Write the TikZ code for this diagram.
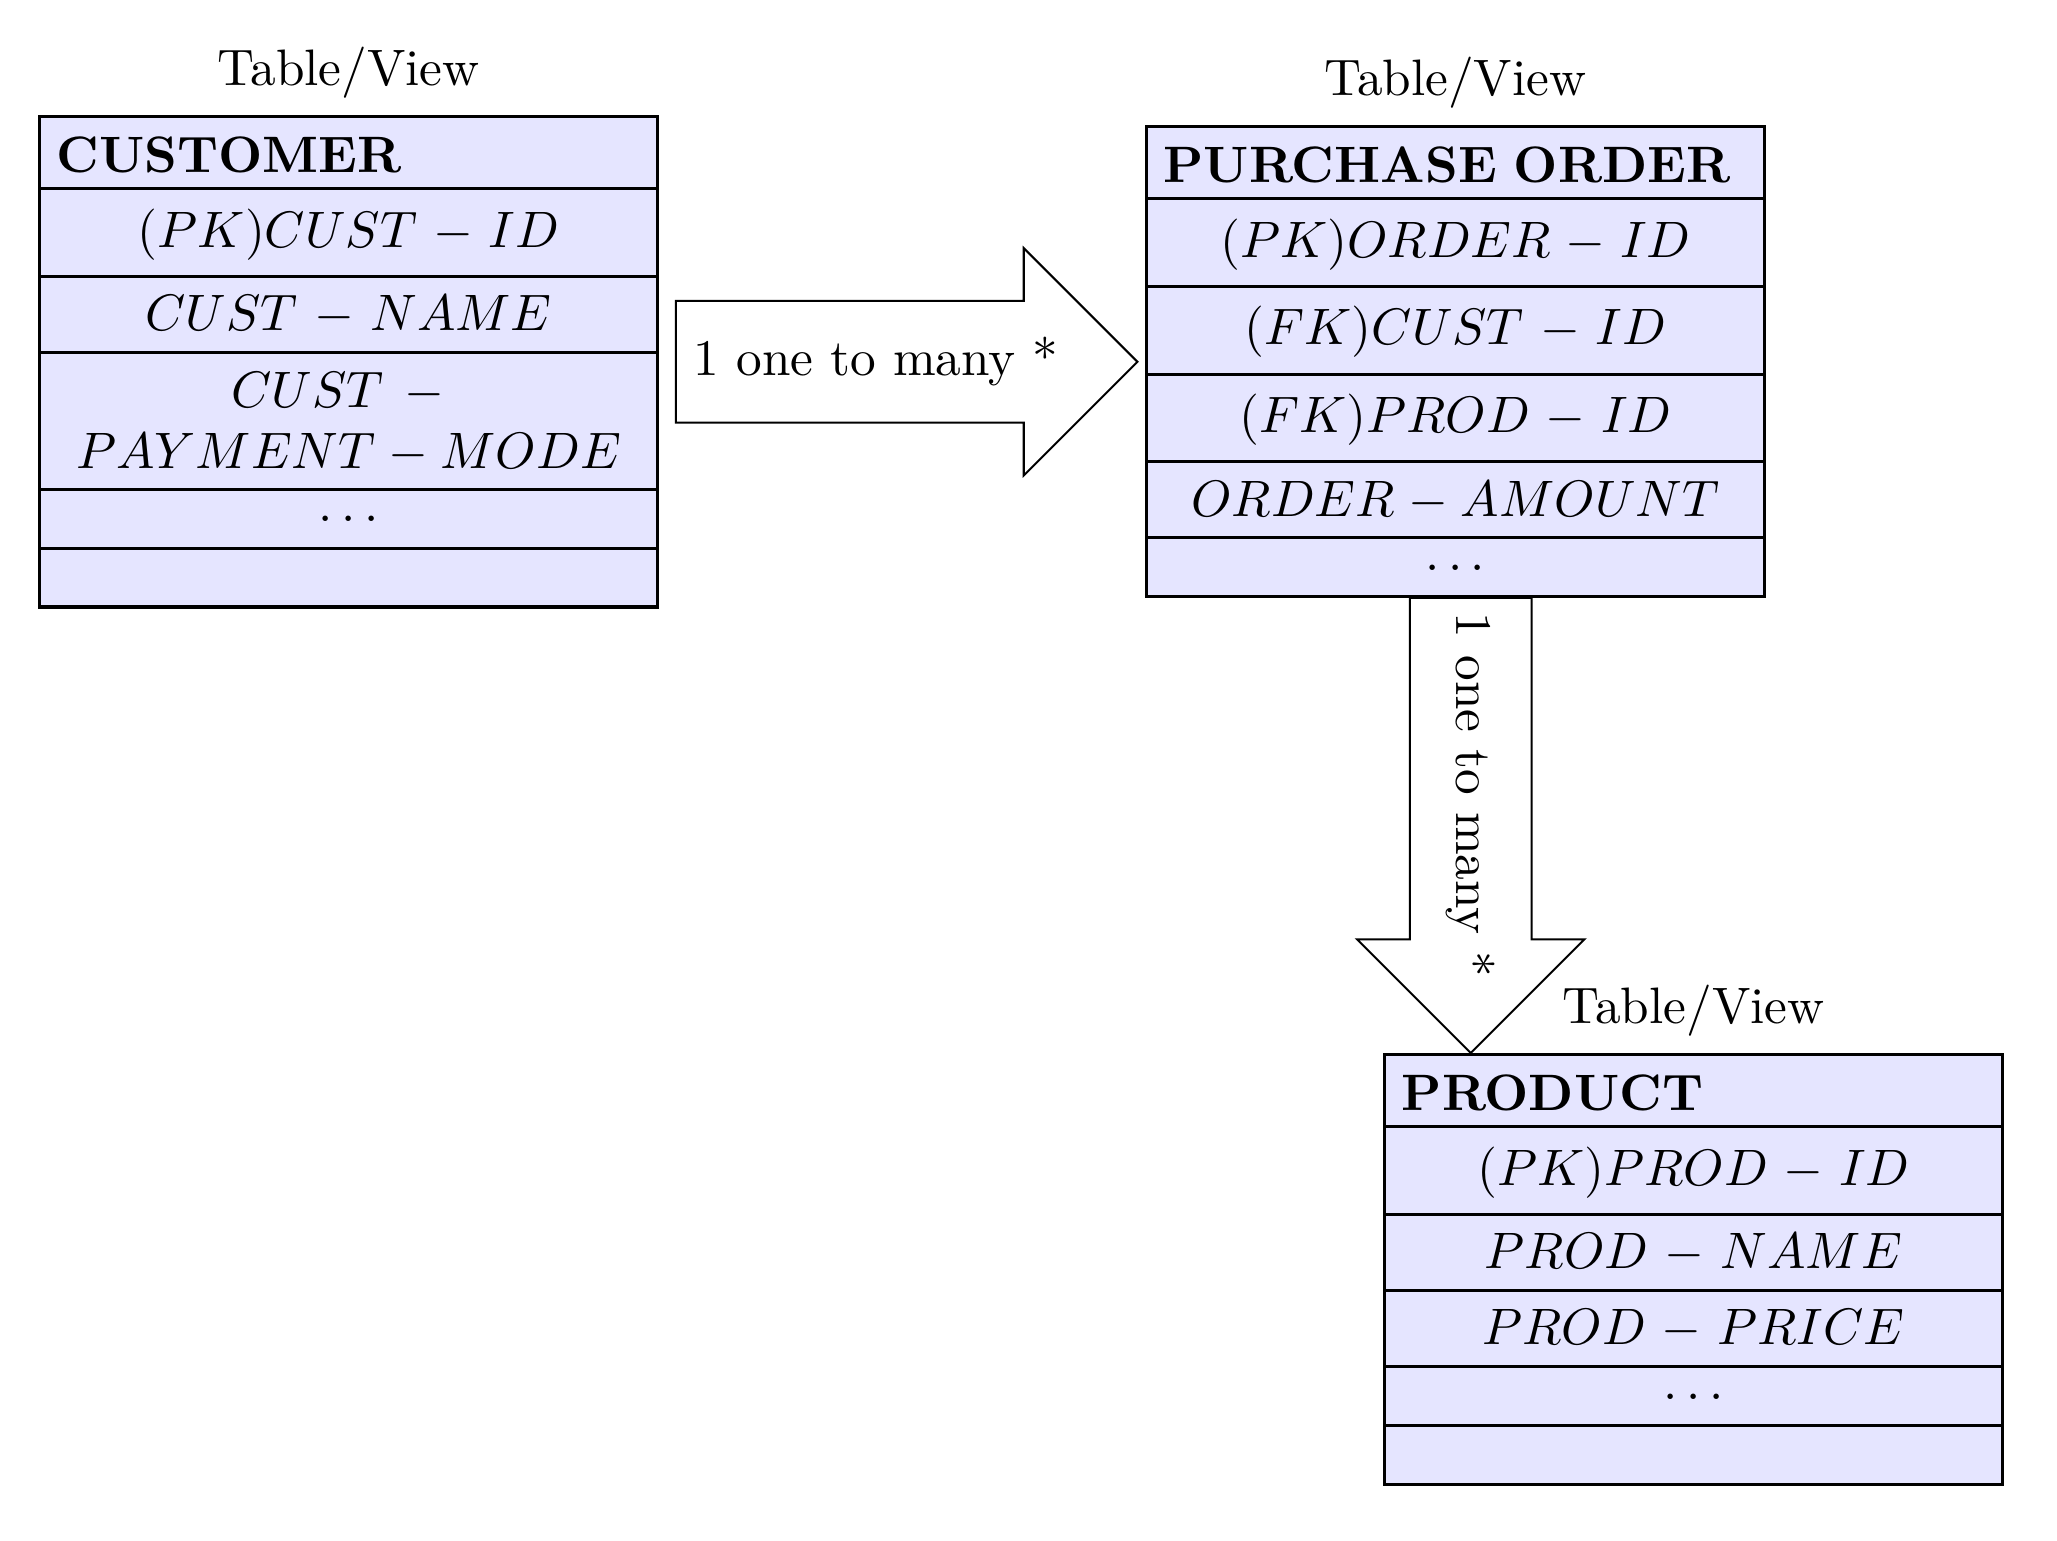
\documentclass[tikz,border=0pt]{standalone}
\usetikzlibrary{shapes.arrows,positioning,calc}

\tikzset{
    tblrow/.style={draw, semithick, fill=blue!10, text width=4cm, inner ysep=0pt,
        outer sep=0pt, align=center},
    tblhead/.style={tblrow, align=left, font=\bfseries, text height=10.9pt,
        text depth=3.2pt, label=above:Table/View},
    tblkey/.style={tblrow, text height=11.4pt, text depth=5.7pt},
    tblfield/.style={tblrow, text height=10.6pt, text depth=4.25pt},
    tbldots/.style={tblrow, text height=6.4pt, text depth=5.1pt},
    relation/.style={single arrow, draw, inner ysep=6.9pt,
        single arrow head extend=10.3pt}
}

\begin{document}
\begin{tikzpicture}
    \useasboundingbox (-0.273,0.8) rectangle (13.83,-9.764);
    % customer
    \node[tblhead, anchor=north west] (cust-head) at (0,0) {CUSTOMER};
    \node[tblkey, below=0pt of cust-head] (cust-id) {$(PK)CUST-ID$};
    \node[tblfield, below=0pt of cust-id] (cust-name) {$CUST-NAME$};
    \node[tblfield, text depth=16pt, below=0pt of cust-name] (cust-pay) {$CUST-{}$\\$PAYMENT-MODE$};
    \node[tbldots, below=0pt of cust-pay] (cust-dots) {$\ldots$};
    \node[tbldots, below=0pt of cust-dots] (cust-end) {};
    \coordinate (cust-mid) at ($(cust-head.north east)!0.5!(cust-end.south east)$);
    \node[relation, right=3.4pt of cust-mid] (rel1) {1 one to many *};
    % purchase order
    \node[tblhead, anchor=north west] (order-head) at ($(rel1.tip)+(1.5pt,45.9pt)$) {PURCHASE ORDER};
    \node[tblkey, below=0pt of order-head] (order-id) {$(PK)ORDER-ID$};
    \node[tblkey, below=0pt of order-id] (order-cust) {$(FK)CUST-ID$};
    \node[tblkey, below=0pt of order-cust] (order-prod) {$(FK)PROD-ID$};
    \node[tblfield, below=0pt of order-prod] (order-amount) {$ORDER-AMOUNT$};
    \node[tbldots, below=0pt of order-amount] (order-dots) {$\ldots$};
    \node[relation, inner xsep=2.7pt, rotate=-90, anchor=tail] (rel2) at ($(order-dots.south)+(3pt,0)$) {1 one to many *};
    % product
    \node[tblhead, anchor=north west] (prod-head) at ($(rel2.tip)+(-16.8pt,0)$) {PRODUCT};
    \node[tblkey, below=0pt of prod-head] (prod-id) {$(PK)PROD-ID$};
    \node[tblfield, below=0pt of prod-id] (prod-name) {$PROD-NAME$};
    \node[tblfield, below=0pt of prod-name] (prod-price) {$PROD-PRICE$};
    \node[tbldots, below=0pt of prod-price] (prod-dots) {$\ldots$};
    \node[tbldots, below=0pt of prod-dots] (prod-end) {};
\end{tikzpicture}
\end{document}
